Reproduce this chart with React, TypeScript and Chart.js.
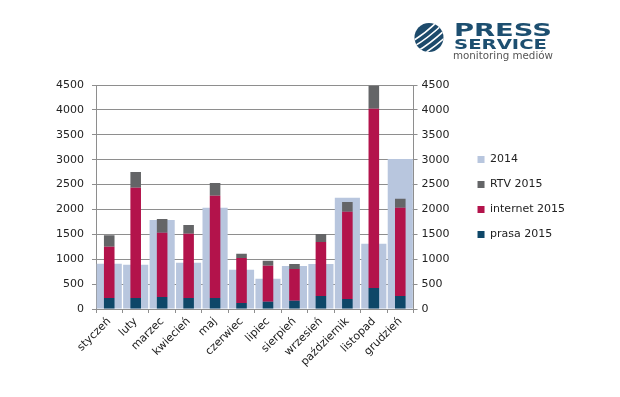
import React, { useEffect, useRef } from "react";
import { Chart, registerables } from "chart.js";
Chart.register(...registerables);

const months = ["styczeń", "luty", "marzec", "kwiecień", "maj", "czerwiec", "lipiec", "sierpień", "wrzesień", "październik", "listopad", "grudzień"];
const prasa2015 = [220, 220, 240, 220, 220, 120, 147, 167, 261, 201, 422, 261];
const internet2015 = [1030, 2217, 1292, 1293, 2056, 904, 723, 636, 1084, 1753, 3601, 1774];
const rtv2015 = [230, 314, 274, 174, 254, 87, 100, 100, 161, 195, 463, 181];
const total2014 = [910, 890, 1787, 930, 2035, 790, 609, 864, 904, 2236, 1312, 3013];
const seriesNames = ["prasa 2015", "internet 2015", "RTV 2015", "2014"];
const yTicks = [0, 500, 1000, 1500, 2000, 2500, 3000, 3500, 4000, 4500];

const FONT = { family: "'DejaVu Sans', Verdana, sans-serif", size: 11 };
const GRID = "#8e8e8e";

function Logo() {
  return (
    <svg width={160} height={50} viewBox="0 0 160 50" style={{ position: "absolute", left: 405, top: 12 }}>
      <defs>
        <clipPath id="lc">
          <circle cx={24} cy={25.5} r={14.5} />
        </clipPath>
      </defs>
      <circle cx={24} cy={25.5} r={14.5} fill="#1d4a6b" />
      <g clipPath="url(#lc)" stroke="#ffffff" strokeWidth={1.6} fill="none">
        <path d="M6 30 Q20 22 34 8" />
        <path d="M8 35 Q22 27 38 12" />
        <path d="M11 40 Q25 32 41 17" />
        <path d="M15 44 Q29 36 44 22" />
      </g>
      <text x={49} y={24} textLength={98} lengthAdjust="spacingAndGlyphs" fill="#1d4f70" style={{ font: "bold 18px 'DejaVu Sans', sans-serif" }}>PRESS</text>
      <text x={49} y={37} textLength={93} lengthAdjust="spacingAndGlyphs" fill="#1d4f70" style={{ font: "bold 14px 'DejaVu Sans', sans-serif" }}>SERVICE</text>
      <text x={48} y={46.5} textLength={100} lengthAdjust="spacingAndGlyphs" fill="#555" style={{ font: "11px 'DejaVu Sans', sans-serif" }}>monitoring mediów</text>
    </svg>
  );
}

export default function App() {
  const ref = useRef<HTMLCanvasElement>(null);
  useEffect(() => {
    document.body.style.margin = "0";
    const ctx = ref.current!;
    const narrow = { barPercentage: 0.4, categoryPercentage: 1, grouped: false, stack: "s2015", order: 1, borderWidth: 0 };
    const fmt = (v: any) => String(v);
    const chart = new Chart(ctx, {
      type: "bar",
      data: {
        labels: months,
        datasets: [
          { label: seriesNames[0], data: prasa2015, backgroundColor: "#0e4768", ...narrow },
          { label: seriesNames[1], data: internet2015, backgroundColor: "#b3134b", ...narrow },
          { label: seriesNames[2], data: rtv2015, backgroundColor: "#646567", ...narrow },
          { label: seriesNames[3], data: total2014, backgroundColor: "#b8c6de", barPercentage: 0.95, categoryPercentage: 1, grouped: false, stack: "s2014", order: 2, borderWidth: 0 } as any,
        ],
      },
      options: {
        animation: false,
        responsive: false,
        maintainAspectRatio: false,
        layout: { padding: { left: 40, right: 45, top: 85, bottom: 10 } },
        plugins: {
          tooltip: { enabled: false },
          legend: {
            position: "right",
            fullSize: false,
            reverse: true,
            maxWidth: 150,
            labels: { boxWidth: 7, boxHeight: 7, padding: 14, color: "#222", font: FONT },
          },
        },
        scales: {
          x: {
            stacked: false,
            grid: { offset: true, drawOnChartArea: false, color: GRID, tickLength: 4 },
            border: { color: GRID },
            ticks: { maxRotation: 45, minRotation: 45, autoSkip: false, color: "#222", font: FONT, padding: 2 },
            afterFit: (s: any) => { s.height = 78; },
          },
          y: {
            stacked: true,
            min: 0,
            max: 4500,
            afterBuildTicks: (s: any) => { s.ticks = yTicks.map((v) => ({ value: v })); },
            ticks: { color: "#222", font: FONT, padding: 8, callback: fmt },
            grid: { color: GRID, tickLength: 4 },
            border: { color: GRID },
            afterFit: (s: any) => { s.width = 56; },
          },
          y2: {
            position: "right",
            min: 0,
            max: 4500,
            afterBuildTicks: (s: any) => { s.ticks = yTicks.map((v) => ({ value: v })); },
            ticks: { color: "#222", font: FONT, padding: 4, callback: fmt },
            grid: { drawOnChartArea: false, color: GRID, tickLength: 4 },
            border: { color: GRID },
            afterFit: (s: any) => { s.width = 50; },
          },
        },
      } as any,
    });
    return () => chart.destroy();
  }, []);
  return (
    <div style={{ position: "relative", width: 620, height: 397, background: "#fff" }}>
      <canvas ref={ref} width={620} height={397} style={{ position: "absolute", left: 0, top: 0 }} />
      <Logo />
    </div>
  );
}
